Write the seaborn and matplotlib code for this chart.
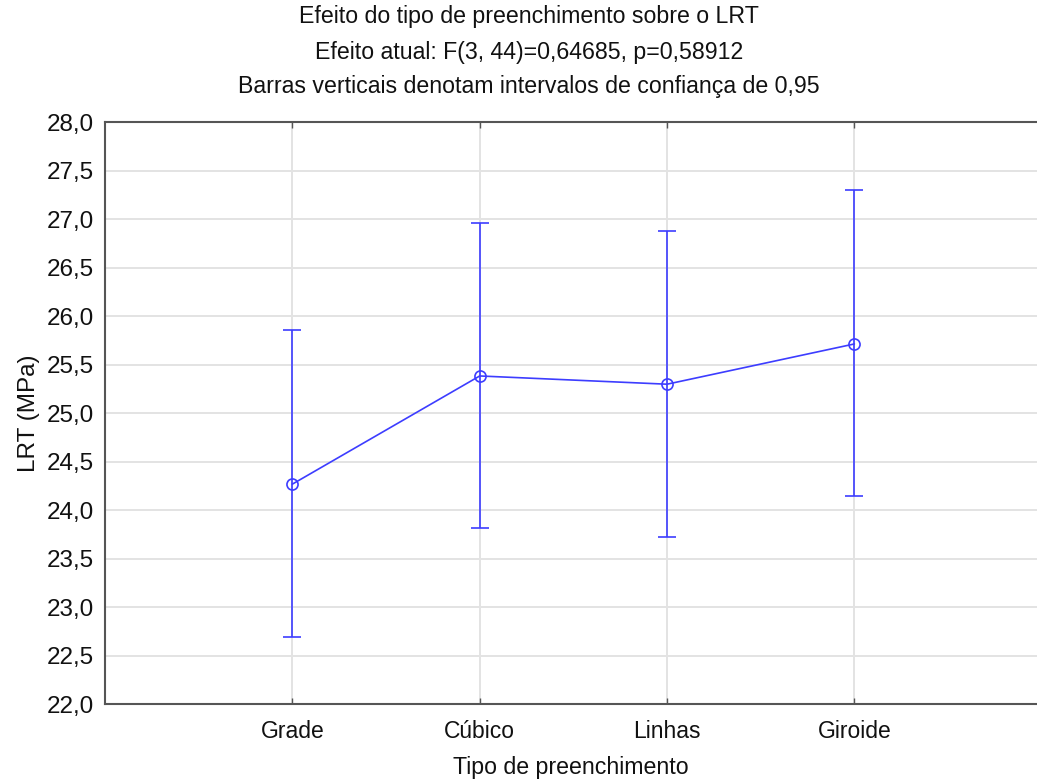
import matplotlib
matplotlib.use("Agg")
import matplotlib.pyplot as plt
import matplotlib.ticker as mticker
import seaborn as sns
import pandas as pd

# Mean tensile strength (LRT) per infill type with 95% confidence limits
categories = ["Grade", "Cúbico", "Linhas", "Giroide"]
means = [24.27, 25.385, 25.30, 25.715]
ci_low = [22.69, 23.82, 23.725, 24.15]
ci_high = [25.855, 26.96, 26.88, 27.30]

title_lines = [
    "Efeito do tipo de preenchimento sobre o LRT",
    "Efeito atual: F(3, 44)=0,64685, p=0,58912",
    "Barras verticais denotam intervalos de confiança de 0,95",
]
y_ticks = [22.0, 22.5, 23.0, 23.5, 24.0, 24.5, 25.0, 25.5, 26.0, 26.5, 27.0, 27.5, 28.0]

sns.set_style("white")
plt.rcParams["font.family"] = ["Liberation Sans", "DejaVu Sans"]

df = pd.DataFrame({"Tipo de preenchimento": categories, "LRT (MPa)": means})

fig = plt.figure(figsize=(10.37, 7.83), dpi=100)
ax = fig.add_axes([0.1013, 0.1005, 0.8987, 0.7433])

color = "#3d3dff"
ax.set_axisbelow(True)
ax.grid(True, color="#e3e3e3", linewidth=1.4)

sns.lineplot(data=df, x="Tipo de preenchimento", y="LRT (MPa)", sort=False,
             color=color, linewidth=1.2, marker="o", markersize=8,
             markerfacecolor="none", markeredgecolor=color, markeredgewidth=1.2,
             ax=ax, zorder=3)

xpos = list(range(len(categories)))
yerr = [[m - lo for m, lo in zip(means, ci_low)],
        [hi - m for m, hi in zip(means, ci_high)]]
ax.errorbar(xpos, means, yerr=yerr, fmt="none", ecolor=color,
            elinewidth=1.2, capsize=6.8, capthick=1.2, zorder=2)

ax.set_xlim(-1, 3.975)
ax.set_ylim(22.0, 28.0)
ax.set_xticks(xpos)
ax.set_xticklabels(categories)
ax.set_yticks(y_ticks)
ax.yaxis.set_major_formatter(mticker.FuncFormatter(lambda v, p: f"{v:.1f}".replace(".", ",")))

ax.tick_params(axis="x", direction="in", length=4, width=1, color="#555555",
               top=True, bottom=True, labelsize=16.5, pad=11, labelcolor="#111111")
ax.tick_params(axis="y", length=0, labelsize=17.5, pad=8, labelcolor="#111111")

for side in ["left", "bottom", "top"]:
    ax.spines[side].set_color("#555555")
    ax.spines[side].set_linewidth(1.5)
ax.spines["right"].set_visible(False)

ax.set_xlabel("Tipo de preenchimento", fontsize=16.7, labelpad=10, color="#111111")
ax.set_ylabel("LRT (MPa)", fontsize=17.5, labelpad=5, color="#111111")

for line, ypx in zip(title_lines, [17, 52, 86]):
    fig.text(529 / 1037, 1 - ypx / 783, line, ha="center", va="center",
             fontsize=16.7, color="#111111")

fig.savefig("out.png", dpi=100)
